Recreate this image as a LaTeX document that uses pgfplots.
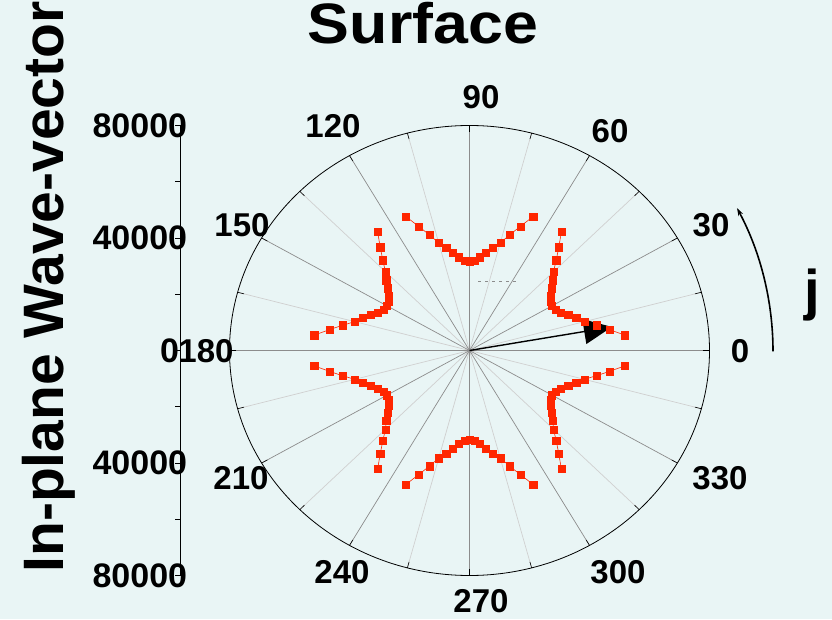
\documentclass[border=0pt]{standalone}
\usepackage{fontspec}
\setmainfont{Liberation Sans}
\usepackage{pgfplots}
\pgfplotsset{compat=1.18}
\usetikzlibrary{arrows.meta}
\definecolor{bgc}{RGB}{233,245,245}
\definecolor{dotred}{RGB}{255,38,0}
\definecolor{spokedark}{RGB}{140,140,140}
\definecolor{spokelight}{RGB}{208,208,208}
\begin{document}
\begin{tikzpicture}[x=1pt,y=1pt]
\useasboundingbox[fill=bgc] (0,0) rectangle (832,619);

% left radial scale
\begin{axis}[
  at={(180.3pt,268.5pt)}, anchor=west,
  scale only axis, width=1pt, height=450pt,
  xmin=0, xmax=1, ymin=-80000, ymax=80000,
  axis x line=none, axis y line*=left,
  axis line style={black, line width=0.8pt},
  ytick={-80000,-40000,0,40000,80000},
  yticklabels={80000,40000,0\kern8pt,40000,80000},
  minor ytick={-60000,-20000,20000,60000},
  tick align=outside,
  major tick length=5pt, minor tick length=5pt,
  tick style={black, line width=0.6pt},
  yticklabel style={font=\fontsize{34}{34}\selectfont\bfseries, anchor=east, inner sep=0pt, xshift=12pt},
  scaled y ticks=false,
]
\end{axis}

% polar plot
\begin{axis}[
  at={(469.5pt,268.5pt)}, anchor=center,
  scale only axis, width=480pt, height=450pt,
  xmin=-80000, xmax=80000, ymin=-80000, ymax=80000,
  hide axis, clip=false,
]
\pgfplotsinvokeforeach{15,45,...,345}{\addplot[spokelight, line width=0.7pt, data cs=polar] coordinates {(#1,0) (#1,80000)};}
\pgfplotsinvokeforeach{0,30,...,330}{\addplot[spokedark, line width=0.7pt, data cs=polar] coordinates {(#1,0) (#1,80000)};}
\pgfplotsinvokeforeach{0,15,...,345}{\addplot[black, line width=0.6pt, data cs=polar] coordinates {(#1,77800) (#1,80000)};}
\draw[black, line width=0.8pt] (axis cs:0,0) ellipse [x radius=80000, y radius=80000];

\pgfplotsset{dots/.style={dotred, line width=0.6pt, mark=square*, mark size=3.6pt, mark options={fill=dotred, draw=dotred, line width=0.3pt}, data cs=polar}}
\addplot[dots] coordinates {(6,52100) (9,47300) (12,43200) (15,39600) (18,37350) (21,35250) (24,33400) (27,32100) (30,31750) (33,32100) (36,33400) (39,35250) (42,37350) (45,39600) (48,43200) (51,47300) (54,52100)};
\addplot[dots] coordinates {(66,52100) (69,47300) (72,43200) (75,39600) (78,37350) (81,35250) (84,33400) (87,32100) (90,31750) (93,32100) (96,33400) (99,35250) (102,37350) (105,39600) (108,43200) (111,47300) (114,52100)};
\addplot[dots] coordinates {(126,52100) (129,47300) (132,43200) (135,39600) (138,37350) (141,35250) (144,33400) (147,32100) (150,31750) (153,32100) (156,33400) (159,35250) (162,37350) (165,39600) (168,43200) (171,47300) (174,52100)};
\addplot[dots] coordinates {(186,52100) (189,47300) (192,43200) (195,39600) (198,37350) (201,35250) (204,33400) (207,32100) (210,31750) (213,32100) (216,33400) (219,35250) (222,37350) (225,39600) (228,43200) (231,47300) (234,52100)};
\addplot[dots] coordinates {(246,52100) (249,47300) (252,43200) (255,39600) (258,37350) (261,35250) (264,33400) (267,32100) (270,31750) (273,32100) (276,33400) (279,35250) (282,37350) (285,39600) (288,43200) (291,47300) (294,52100)};
\addplot[dots] coordinates {(306,52100) (309,47300) (312,43200) (315,39600) (318,37350) (321,35250) (324,33400) (327,32100) (330,31750) (333,32100) (336,33400) (339,35250) (342,37350) (345,39600) (348,43200) (351,47300) (354,52100)};

\addplot[black, line width=1.4pt, data cs=polar] coordinates {(0,0) (10,42000)};
\draw[black, line width=1.4pt, -{Triangle[length=28pt,width=25pt]}] (axis cs:39392,6946) -- (axis cs:47468,8370);
\end{axis}

\draw[spokedark, dash pattern=on 3pt off 4pt, line width=0.5pt] (478,338) -- (518,338);

% curved arrow
\draw[black, line width=1.6pt, -{Stealth[length=8pt,width=5pt]}] (773,267.6) arc[start angle=0, end angle=28.2, radius=303.5pt];

% angle labels
\begin{scope}[every node/.style={font=\fontsize{33}{33}\selectfont\bfseries, inner sep=0pt}]
\node at (740,268) {0};
\node at (711,394) {30};
\node at (610,488) {60};
\node at (481,522) {90};
\node at (333,493) {120};
\node at (242,394) {150};
\node at (206,268) {180};
\node at (241,141) {210};
\node at (342,47) {240};
\node at (481,18) {270};
\node at (618,47) {300};
\node at (720,141) {330};
\end{scope}

\node[font=\fontsize{57}{57}\selectfont\bfseries, anchor=base, xscale=1.1, inner sep=0pt] at (423,575) {Surface};
\node[font=\fontsize{57}{57}\selectfont\bfseries, rotate=90, anchor=base, inner sep=0pt] at (63,332) {In-plane Wave-vector};
\node[font=\fontsize{56}{56}\selectfont\bfseries, anchor=base, inner sep=0pt] at (812,309) {j};
\end{tikzpicture}
\end{document}
